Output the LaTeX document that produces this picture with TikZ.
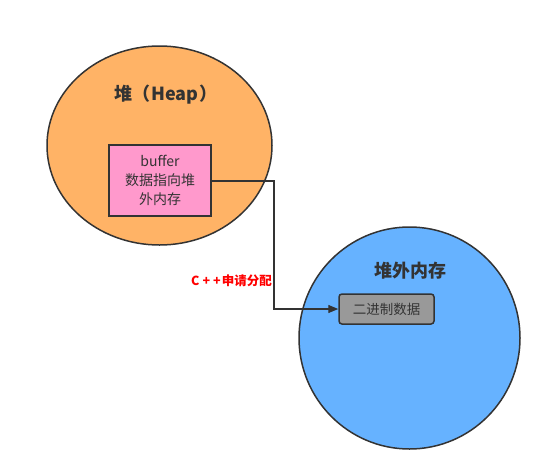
\documentclass[tikz,border=0pt]{standalone}
\usepackage{fontspec}
\setmainfont{Noto Sans CJK SC}
\usetikzlibrary{arrows.meta,shapes.geometric}
\definecolor{heapfill}{HTML}{FFB366}
\definecolor{offfill}{HTML}{66B2FF}
\definecolor{pinkfill}{HTML}{FF99CC}
\definecolor{grayfill}{HTML}{999999}
\definecolor{strokec}{HTML}{333333}
\tikzset{
  region/.style={draw=strokec, line width=1.5pt, ellipse, inner sep=0pt, outer sep=0pt},
  boxstyle/.style={draw=strokec, line width=1.5pt, inner sep=0pt, align=center, text=strokec},
  title/.style={font=\fontsize{18}{21}\selectfont\bfseries, text=strokec},
  conn/.style={draw=strokec, line width=1.3pt},
}
\begin{document}
\begin{tikzpicture}[x=1pt,y=-1pt]
\useasboundingbox (0,0) rectangle (551,464);
\fill[white] (0,0) rectangle (551,464);
\node[region, fill=heapfill, minimum width=225pt, minimum height=199pt] (heap) at (159.5,145.5) {};
\node[region, fill=offfill, minimum width=221pt, minimum height=222pt] (off) at (409.5,338) {};
\node[title] (heapt) at (166,95) {堆（\kern1pt Heap\kern1pt）};
\node[title] (offt) at (410,271) {堆外内存};
\node[boxstyle, fill=pinkfill, minimum width=102pt, minimum height=71pt,
  font=\fontsize{14}{19}\selectfont] (buf) at (160,180.5) {buffer\\数据指向堆\\外内存};
\node[boxstyle, fill=grayfill, rounded corners=3pt, minimum width=95pt, minimum height=30pt,
  font=\fontsize{13.5}{15}\selectfont] (bin) at (386.5,309) {二进制数据};
\coordinate (bend) at (274,181);
\draw[conn, -{Triangle[length=10pt,width=8pt]}] (buf.east |- bend) -- (bend) -- (bend |- bin.west) -- (bin.west);
\node[font=\fontsize{12.5}{15}\selectfont\bfseries, text=red, anchor=east, inner sep=0pt] (lab) at (272,281) {C\kern3pt+\kern3pt+\kern1pt申请分配};
\end{tikzpicture}
\end{document}
